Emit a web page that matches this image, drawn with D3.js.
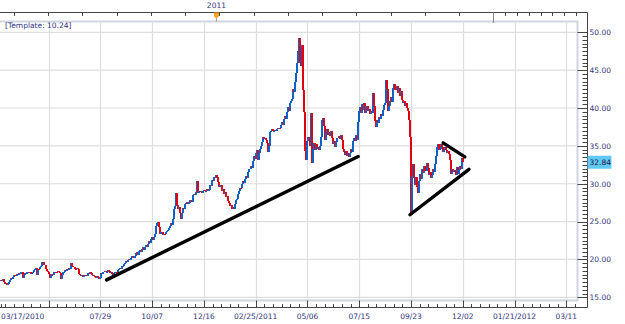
<!DOCTYPE html>
<html>
<head>
<meta charset="utf-8">
<script src="https://cdn.jsdelivr.net/npm/d3@7"></script>
<style>
  body { margin: 0; background: #fff; }
  svg { display: block; }
  text { font-family: "DejaVu Sans", Verdana, sans-serif; }
</style>
</head>
<body>
<svg id="chart" width="625" height="324"></svg>
<script>
// Daily closing prices, one per trading day starting 03/17/2010
const closes = [
  17.3, 17.1, 17.4, 17.0, 16.8, 16.9, 16.6, 16.8, 17.0, 17.3,
  17.5, 17.4, 17.7, 17.9, 17.8, 18.1, 18.0, 18.2, 18.1, 18.3,
  18.4, 17.6, 18.0, 18.2, 18.1, 18.3, 18.4, 18.2, 18.3, 18.1,
  18.2, 18.4, 18.6, 18.7, 18.9, 18.0, 18.8, 18.7, 19.0, 19.1,
  19.6, 19.7, 19.3, 18.7, 18.5, 18.3, 18.1, 17.5, 17.8, 18.1,
  18.0, 18.3, 18.2, 18.4, 18.3, 18.5, 18.4, 18.2, 17.4, 18.0,
  18.3, 18.4, 18.6, 18.5, 18.7, 18.6, 18.9, 18.8, 19.5, 19.1,
  19.0, 18.8, 18.7, 18.9, 18.8, 18.1, 18.0, 17.8, 17.9, 17.7,
  17.9, 17.8, 18.0, 17.8, 18.2, 18.1, 18.3, 18.2, 17.9, 18.0,
  17.8, 17.7, 17.6, 17.8, 17.7, 17.4, 17.6, 18.2, 18.1, 18.4,
  18.5, 18.3, 18.4, 18.6, 18.5, 18.2, 18.3, 18.1, 18.0, 18.2,
  18.3, 18.4, 18.3, 18.6, 18.7, 18.9, 18.8, 19.1, 19.2, 19.4,
  19.5, 19.8, 19.6, 19.9, 20.1, 19.9, 20.2, 20.4, 20.2, 20.5,
  20.8, 21.0, 20.6, 21.1, 21.3, 21.0, 21.4, 21.6, 21.3, 21.7,
  21.9, 21.6, 22.1, 22.4, 22.2, 22.7, 23.0, 22.6, 22.9, 23.3,
  24.4, 24.8, 25.0, 24.3, 23.4, 23.6, 23.2, 23.4, 23.3, 23.6,
  23.8, 23.9, 24.2, 24.4, 24.8, 24.6, 25.3, 26.6, 27.1, 28.8,
  27.2, 26.6, 26.9, 26.1, 25.3, 26.2, 26.8, 26.6, 27.3, 27.5,
  27.6, 27.3, 27.4, 27.8, 27.6, 28.5, 28.7, 28.5, 28.9, 30.3,
  28.8, 29.1, 28.9, 29.0, 28.8, 29.1, 29.2, 29.0, 29.1, 29.3,
  29.1, 29.2, 29.8, 29.7, 30.5, 30.4, 30.9, 30.7, 31.1, 30.9,
  30.2, 29.6, 29.8, 29.1, 29.3, 28.7, 28.9, 28.2, 28.4, 27.7,
  27.5, 27.0, 27.2, 26.7, 26.9, 26.6, 27.3, 27.8, 28.0, 28.6,
  29.0, 29.5, 29.4, 29.9, 30.3, 30.1, 30.6, 31.0, 30.8, 31.6,
  31.9, 32.4, 32.1, 33.0, 33.6, 33.3, 34.1, 34.5, 33.2, 34.0,
  34.6, 35.0, 35.5, 36.2, 35.9, 36.1, 35.8, 35.4, 34.2, 35.0,
  36.8, 37.0, 37.2, 36.9, 37.0, 37.1, 36.9, 37.2, 37.4, 37.3,
  37.7, 38.1, 37.8, 38.6, 38.9, 38.5, 39.5, 40.1, 39.6, 40.6,
  40.9, 41.2, 42.5, 42.1, 43.5, 44.6, 46.0, 47.5, 49.3, 46.0,
  45.6, 48.3, 42.4, 39.5, 34.3, 33.2, 35.6, 36.2, 35.0, 39.3,
  32.7, 34.6, 35.4, 34.4, 35.2, 34.6, 34.8, 34.4, 35.0, 36.2,
  38.4, 38.7, 37.6, 35.8, 36.9, 37.2, 36.5, 36.8, 36.3, 36.9,
  36.0, 35.2, 35.6, 34.9, 35.5, 36.0, 36.3, 35.9, 36.4, 35.8,
  34.6, 34.2, 33.8, 34.3, 33.6, 34.0, 33.5, 34.1, 34.6, 34.2,
  35.6, 36.1, 35.7, 36.5, 35.8, 38.2, 39.6, 40.2, 39.3, 40.5,
  39.8, 40.6, 39.4, 40.3, 39.6, 39.9, 39.2, 39.6, 39.4, 42.0,
  40.3, 38.3, 37.5, 38.4, 38.0, 38.8, 38.5, 39.2, 38.9, 39.8,
  40.4, 40.6, 43.7, 42.5, 39.6, 40.3, 40.9, 41.4, 40.8, 42.6,
  43.2, 42.4, 42.9, 42.0, 42.6, 41.6, 42.3, 41.0, 40.6, 40.9,
  40.3, 40.6, 40.0, 39.6, 38.4, 36.2, 26.0, 31.0, 32.6, 30.8,
  29.8, 30.9, 29.6, 28.8, 30.4, 31.3, 30.6, 31.9, 31.4, 32.4,
  31.7, 32.7, 32.1, 31.2, 31.6, 30.8, 31.2, 31.9, 31.5, 32.6,
  33.6, 34.8, 35.3, 34.5, 34.6, 35.2, 34.9, 34.2, 34.6, 34.8,
  34.4, 34.0, 34.3, 33.9, 33.1, 31.3, 32.0, 31.5, 31.8, 31.2,
  32.2, 31.3, 31.8, 32.4, 31.9, 33.4, 32.84
];

// Price axis
const priceTicks = [15, 20, 25, 30, 35, 40, 45, 50];

// Date axis: bar index of each labelled gridline (future dates continue the same spacing)
const dateLabels = ["03/17/2010", "07/29", "10/07", "12/16", "02/25/2011", "05/06",
                    "07/15", "09/23", "12/02", "01/21/2012", "03/11"];
const dateLabelIdx = [0, 96, 146, 196, 246, 296, 346, 396, 446, 496, 546];
const gridIdx = [46, 96, 146, 196, 246, 296, 346, 396, 446, 496, 546];

// Hand-drawn trend lines: [startIdx, startPrice, endIdx, endPrice]
const trendLines = [
  [102, 17.3, 345, 33.6],
  [395, 25.9, 452, 31.9],
  [427, 35.4, 448, 33.55]
];

// Overview strip along the top
const navSteps = 14;          // coarse divisions
const navFineSteps = 7;       // fine divisions after the window edge
const navMarkerStep = 6;      // step holding the year marker
const navYear = "2011";
const templateLabel = "[Template: 10.24]";

const svg = d3.select("#chart");

const plot = { left: 0, right: 577.5, top: 21.5, bottom: 300.5 };
const axisX = 587.5;      // right price axis line
const axisBottomY = 307.5;
const topAxisY = 12.5;

const x = d3.scaleLinear().domain([0, 546]).range([1, 566.3]);
const y = d3.scaleLinear().domain([15, 50]).range([297.3, 32.3]);

const labelColor = "#343480";
const up = "#0e62c6", down = "#e00012";

// Frame
svg.append("rect")
  .attr("x", -2).attr("y", plot.top)
  .attr("width", plot.right + 2).attr("height", plot.bottom - plot.top)
  .attr("fill", "none").attr("stroke", "#d0d5df").attr("stroke-width", 2);

// Gridlines
const grid = svg.append("g").attr("stroke", "#dedede").attr("stroke-width", 1.2);
grid.selectAll("line.h").data(priceTicks).join("line")
  .attr("x1", 0).attr("x2", plot.right - 1)
  .attr("y1", d => y(d)).attr("y2", d => y(d));
grid.selectAll("line.v").data(gridIdx).join("line")
  .attr("x1", d => Math.round(x(d)) + 0.5).attr("x2", d => Math.round(x(d)) + 0.5)
  .attr("y1", plot.top + 1).attr("y2", plot.bottom - 1);

// Price bars: each bar runs from the previous close to the current close
const bars = svg.append("g").attr("shape-rendering", "crispEdges");
bars.selectAll("rect").data(closes).join("rect")
  .attr("x", (d, i) => Math.round(x(i)) - 1)
  .attr("width", 2)
  .attr("y", (d, i) => {
    const o = i > 0 ? closes[i - 1] : d;
    return Math.min(y(o), y(d));
  })
  .attr("height", (d, i) => {
    const o = i > 0 ? closes[i - 1] : d;
    return Math.max(1, Math.abs(y(o) - y(d)));
  })
  .attr("fill", (d, i) => (i > 0 && d < closes[i - 1]) ? down : up);

// Trend lines
svg.append("g").selectAll("line").data(trendLines).join("line")
  .attr("x1", d => x(d[0])).attr("y1", d => y(d[1]))
  .attr("x2", d => x(d[2])).attr("y2", d => y(d[3]))
  .attr("stroke", "#000").attr("stroke-width", 3.4).attr("stroke-linecap", "round");

// Template caption
svg.append("text").attr("x", 5).attr("y", 28)
  .attr("font-size", 7.5).attr("fill", labelColor).text(templateLabel);

// Right price axis
const axisG = svg.append("g").attr("stroke", "#444");
axisG.append("line").attr("x1", axisX).attr("x2", axisX).attr("y1", topAxisY).attr("y2", axisBottomY);
const minorPrices = d3.range(15, 50.01, 0.5).filter(v => v % 5 !== 0);
axisG.selectAll("line.mi").data(minorPrices).join("line")
  .attr("x1", axisX - 5).attr("x2", axisX)
  .attr("y1", d => Math.round(y(d)) + 0.5).attr("y2", d => Math.round(y(d)) + 0.5);
axisG.selectAll("line.ma").data(priceTicks).join("line")
  .attr("x1", axisX - 10).attr("x2", axisX)
  .attr("y1", d => Math.round(y(d)) + 0.5).attr("y2", d => Math.round(y(d)) + 0.5);
svg.append("g").selectAll("text").data(priceTicks).join("text")
  .attr("x", axisX + 2).attr("y", d => y(d) + 2.8)
  .attr("font-size", 7.5).attr("fill", labelColor)
  .text(d => d3.format(".2f")(d));

// Last price marker
const last = closes[closes.length - 1];
svg.append("rect").attr("x", axisX).attr("y", y(last) - 6.5)
  .attr("width", 24).attr("height", 13).attr("fill", "#62c8f6");
svg.append("text").attr("x", axisX + 2).attr("y", y(last) + 2.8)
  .attr("font-size", 7.5).attr("fill", "#1a1a40")
  .text(d3.format(".2f")(last));

// Bottom date axis
const botG = svg.append("g").attr("stroke", "#444");
botG.append("line").attr("x1", 0).attr("x2", axisX).attr("y1", axisBottomY).attr("y2", axisBottomY);
const minorIdx = [0].concat(d3.range(46 - 50 / 6 * 5, 560, 50 / 6)
  .filter(v => x(v) < axisX - 3 && !gridIdx.some(g => Math.abs(g - v) < 0.1)));
botG.selectAll("line.mi").data(minorIdx).join("line")
  .attr("x1", d => Math.round(x(d)) + 0.5).attr("x2", d => Math.round(x(d)) + 0.5)
  .attr("y1", axisBottomY - 3.5).attr("y2", axisBottomY);
botG.selectAll("line.ma").data(gridIdx).join("line")
  .attr("x1", d => Math.round(x(d)) + 0.5).attr("x2", d => Math.round(x(d)) + 0.5)
  .attr("y1", axisBottomY - 7).attr("y2", axisBottomY);
svg.append("g").selectAll("text").data(dateLabels).join("text")
  .attr("x", (d, i) => i === 0 ? 1 : x(dateLabelIdx[i]))
  .attr("y", 319)
  .attr("text-anchor", (d, i) => i === 0 ? "start" : "middle")
  .attr("font-size", 7.5).attr("fill", labelColor)
  .text(d => d);

// Top overview strip
const nav = d3.scaleLinear().domain([0, navSteps]).range([14, 493.3]);
const navFine = d3.scaleLinear().domain([0, navFineSteps]).range([493.3, 576]);
const topG = svg.append("g").attr("stroke", "#444");
topG.append("line").attr("x1", 0).attr("x2", axisX).attr("y1", topAxisY).attr("y2", topAxisY);
const navTicks = d3.range(navSteps + 1).map(k => nav(k))
  .concat(d3.range(1, navFineSteps + 1).map(k => navFine(k)));
topG.selectAll("line.t").data(navTicks).join("line")
  .attr("x1", d => Math.round(d) + 0.5).attr("x2", d => Math.round(d) + 0.5)
  .attr("y1", topAxisY).attr("y2", topAxisY + 3.5);
topG.append("line")
  .attr("x1", Math.round(nav(navSteps)) + 0.5).attr("x2", Math.round(nav(navSteps)) + 0.5)
  .attr("y1", topAxisY).attr("y2", 23).attr("stroke", "#888");

const mx = nav(navMarkerStep) - 3;
svg.append("path")
  .attr("d", `M${mx - 2.5},${topAxisY} L${mx + 2.5},${topAxisY} L${mx + 2.5},${topAxisY + 3.5} L${mx},${topAxisY + 6.5} L${mx - 2.5},${topAxisY + 3.5} Z`)
  .attr("fill", "#f2a224");
svg.append("line").attr("x1", mx).attr("x2", mx).attr("y1", topAxisY + 6).attr("y2", topAxisY + 9)
  .attr("stroke", "#999");
svg.append("text").attr("x", mx).attr("y", 8)
  .attr("text-anchor", "middle").attr("font-size", 7.5).attr("fill", labelColor)
  .text(navYear);
</script>
</body>
</html>
